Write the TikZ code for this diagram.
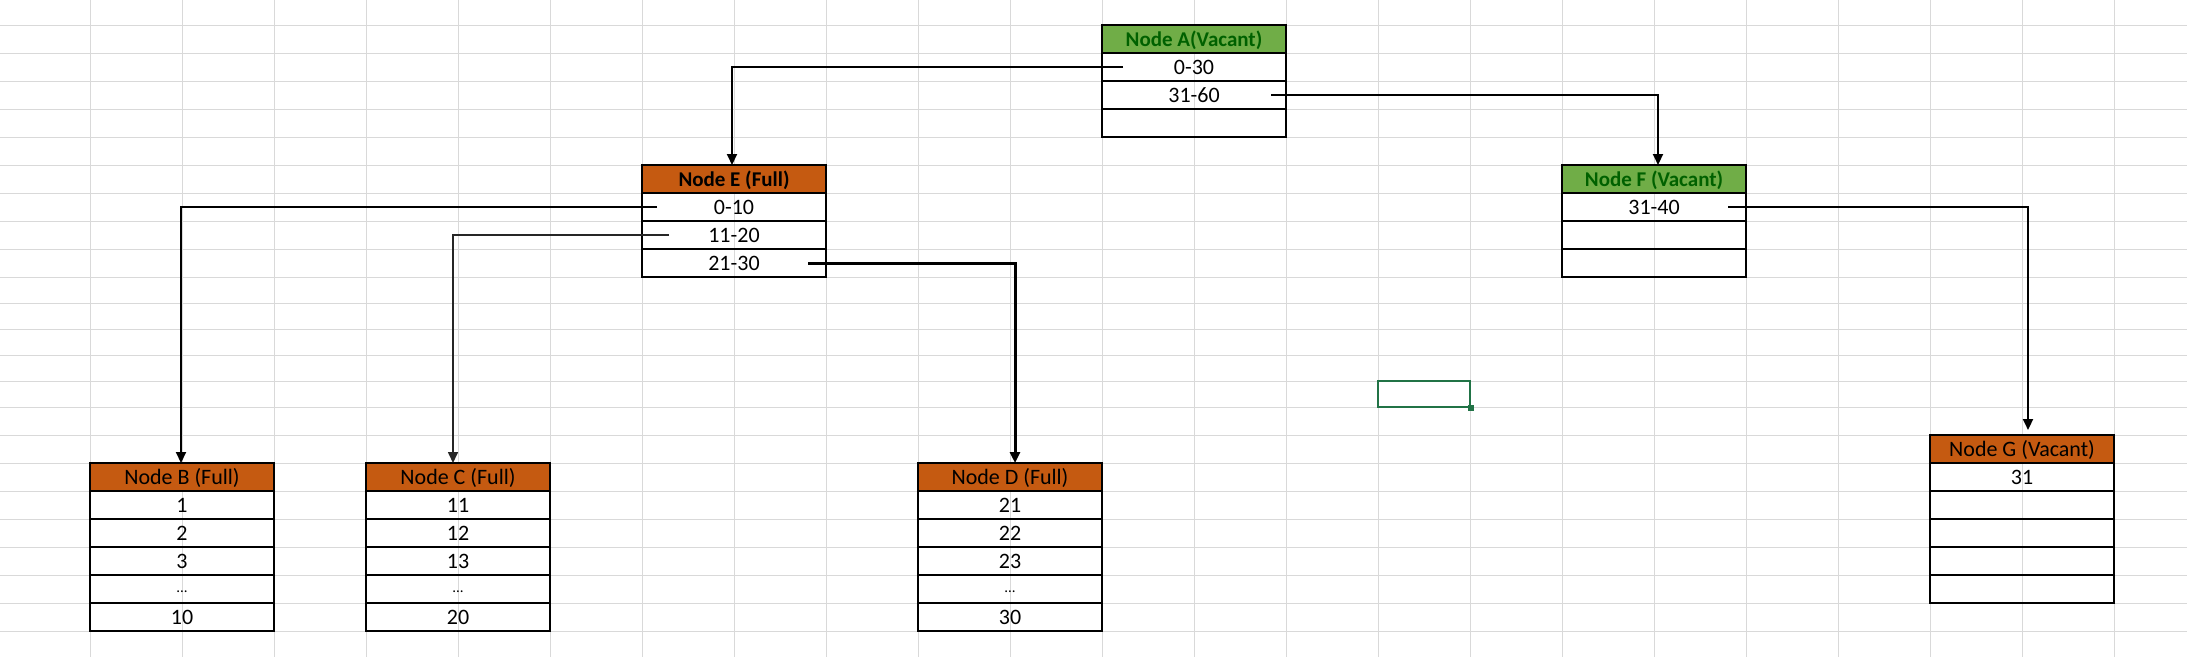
\documentclass[tikz,border=0pt]{standalone}
\usepackage{fontspec}
\setmainfont{Carlito}
\usetikzlibrary{arrows.meta}
\definecolor{gridgray}{HTML}{D9D9D9}
\definecolor{hgreen}{HTML}{70AD47}
\definecolor{hgreentext}{HTML}{006100}
\definecolor{horange}{HTML}{C55A11}
\definecolor{selgreen}{HTML}{217346}
\tikzset{
  cell/.style={draw=black, line width=2pt, minimum width=184pt, minimum height=28pt, inner sep=0pt, outer sep=0pt, font=\fontsize{22}{26}\selectfont, text=black, text depth=0pt, text height=14pt},
  greenhead/.style={cell, fill=hgreen, text=hgreentext, font=\fontsize{21}{26}\selectfont\bfseries},
  orangehead/.style={cell, fill=horange},
  orangeheadb/.style={cell, fill=horange, font=\fontsize{21}{26}\selectfont\bfseries},
  conn/.style={line width=2pt, draw=black, -{Triangle[length=11pt,width=10pt]}},
}
\newcommand\myellip{\raisebox{4pt}{\fontsize{15}{15}\selectfont ...}}
\begin{document}
\begin{tikzpicture}[x=1pt,y=-1pt]
\useasboundingbox (0,0) rectangle (2187,657);
\fill[white] (0,0) rectangle (2187,657);
% grid
\foreach \k in {0,...,22} \draw[gridgray, line width=1pt] ({90+92*\k},0) -- ({90+92*\k},657);
\foreach \y in {25,53,81,109,137,165,193,221,249,277,303,329,355,381,407,435,463,491,519,547,575,603,631}
  \draw[gridgray, line width=1pt] (0,\y) -- (2187,\y);

% Node A
\node[greenhead] (A0) at (1194,39) {Node A(Vacant)};
\node[cell] (A1) at (1194,67) {0-30};
\node[cell] (A2) at (1194,95) {31-60};
\node[cell] (A3) at (1194,123) {};

% Node E
\node[orangeheadb] (E0) at (734,179) {Node E (Full)};
\node[cell] (E1) at (734,207) {0-10};
\node[cell] (E2) at (734,235) {11-20};
\node[cell] (E3) at (734,263) {21-30};

% Node F
\node[greenhead] (F0) at (1654,179) {Node F (Vacant)};
\node[cell] (F1) at (1654,207) {31-40};
\node[cell] (F2) at (1654,235) {};
\node[cell] (F3) at (1654,263) {};

% Node B
\node[orangehead] (B0) at (182,477) {Node B (Full)};
\node[cell] (B1) at (182,505) {1};
\node[cell] (B2) at (182,533) {2};
\node[cell] (B3) at (182,561) {3};
\node[cell] (B4) at (182,589) {\myellip};
\node[cell] (B5) at (182,617) {10};

% Node C
\node[orangehead] (C0) at (458,477) {Node C (Full)};
\node[cell] (C1) at (458,505) {11};
\node[cell] (C2) at (458,533) {12};
\node[cell] (C3) at (458,561) {13};
\node[cell] (C4) at (458,589) {\myellip};
\node[cell] (C5) at (458,617) {20};

% Node D
\node[orangehead] (D0) at (1010,477) {Node D (Full)};
\node[cell] (D1) at (1010,505) {21};
\node[cell] (D2) at (1010,533) {22};
\node[cell] (D3) at (1010,561) {23};
\node[cell] (D4) at (1010,589) {\myellip};
\node[cell] (D5) at (1010,617) {30};

% Node G
\node[orangehead] (G0) at (2022,449) {Node G (Vacant)};
\node[cell] (G1) at (2022,477) {31};
\node[cell] (G2) at (2022,505) {};
\node[cell] (G3) at (2022,533) {};
\node[cell] (G4) at (2022,561) {};
\node[cell] (G5) at (2022,589) {};

% selected cell
\node[draw=selgreen, line width=2.5pt, minimum width=92pt, minimum height=26pt, inner sep=0pt] (sel) at (1424,394) {};
\fill[selgreen] ([xshift=-3pt,yshift=-3pt]sel.south east) rectangle ([xshift=3pt,yshift=3pt]sel.south east);

% connectors
\draw[conn] ([xshift=-71pt]A1.center) -| ([xshift=-2pt]E0.north);
\draw[conn] ([xshift=77pt]A2.center) -| ([xshift=4pt]F0.north);
\draw[conn] ([xshift=-77pt]E1.center) -| ([xshift=-1pt]B0.north);
\draw[conn, line width=1.6pt, draw=black!85] ([xshift=-65pt]E2.center) -| ([xshift=-5pt]C0.north);
\draw[conn, line width=3pt] ([xshift=74pt]E3.center) -| ([xshift=5pt]D0.north);
\draw[conn, shorten >=5pt] ([xshift=74pt]F1.center) -| ([xshift=6pt]G0.north);
\end{tikzpicture}
\end{document}
